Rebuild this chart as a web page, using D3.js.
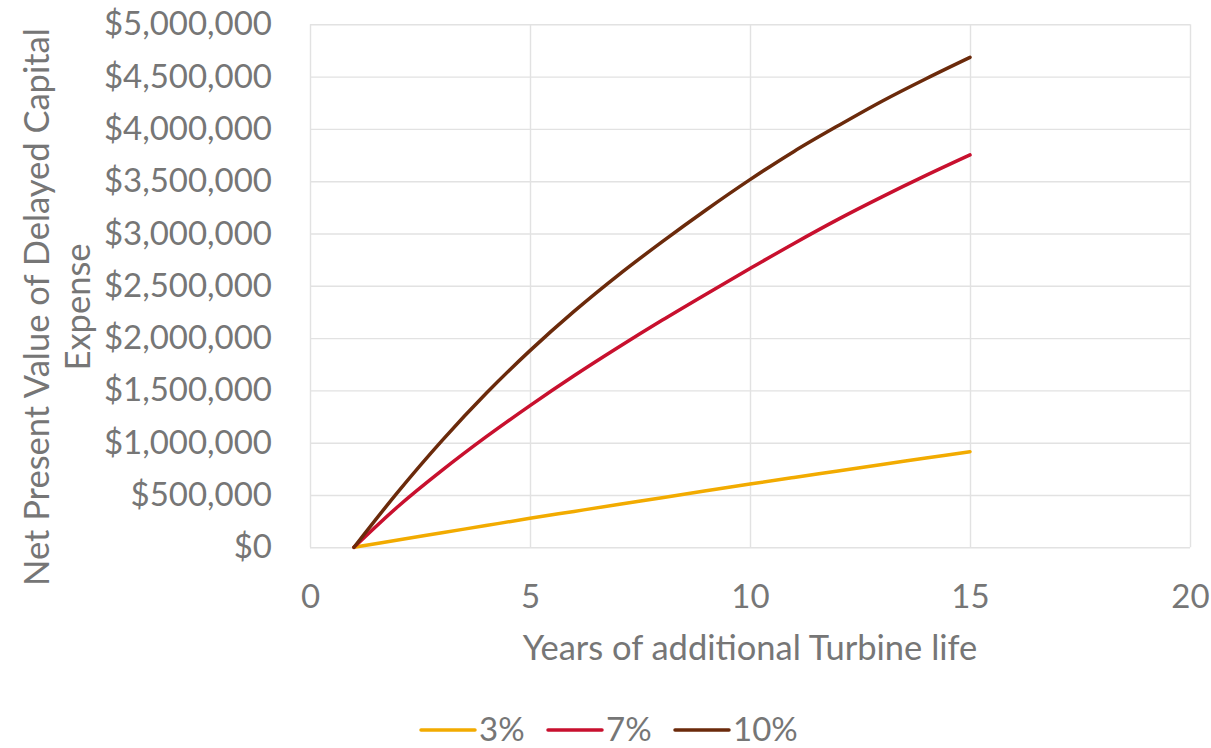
<!DOCTYPE html>
<html>
<head>
<meta charset="utf-8">
<script src="https://cdn.jsdelivr.net/npm/d3@7"></script>
<style>
  html, body { margin: 0; padding: 0; background: #ffffff; }
  svg { display: block; font-family: Lato, "Open Sans", sans-serif; }
</style>
</head>
<body>
<svg id="chart" width="1211" height="748"></svg>
<script>
// Years of additional turbine life
const years = [1, 2, 3, 4, 5, 6, 7, 8, 9, 10, 11, 12, 13, 14, 15];

// Net present value of the delayed capital expense at each discount rate ($)
const npv3  = [0, 70000, 139000, 208000, 277000, 343000, 409000, 474000, 540000, 605000, 668000, 730000, 792000, 853000, 914000];
const npv7  = [0, 390000, 735000, 1055000, 1355000, 1640000, 1910000, 2170000, 2420000, 2665000, 2905000, 3135000, 3350000, 3555000, 3751000];
const npv10 = [0, 530000, 1020000, 1470000, 1880000, 2255000, 2600000, 2920000, 3225000, 3515000, 3785000, 4030000, 4265000, 4480000, 4684000];

const seriesNames = ["3%", "7%", "10%"];
const seriesColors = ["#F2AB00", "#C8102E", "#6B2A0B"];
const seriesValues = [npv3, npv7, npv10];

const xTicks = [0, 5, 10, 15, 20];
const yTicks = [0, 500000, 1000000, 1500000, 2000000, 2500000, 3000000, 3500000, 4000000, 4500000, 5000000];

const xTitle = "Years of additional Turbine life";
const yTitleLines = ["Net Present Value of Delayed Capital", "Expense"];

const textColor = "#767676";
const gridColor = "#e2e2e2";
const fontSize = 33;
const titleSize = 34.5;

const svg = d3.select("#chart");
const plot = { left: 310, right: 1190, top: 24.3, bottom: 547.3 };

const x = d3.scaleLinear().domain([0, 20]).range([plot.left, plot.right]);
const y = d3.scaleLinear().domain([0, 5000000]).range([plot.bottom, plot.top]);

svg.append("rect").attr("width", 1211).attr("height", 748).attr("fill", "#ffffff");

// Gridlines
const gx = svg.append("g")
  .attr("transform", `translate(0,${plot.bottom})`)
  .call(d3.axisBottom(x).tickValues(xTicks).tickSize(-(plot.bottom - plot.top)).tickFormat(""));
const gy = svg.append("g")
  .attr("transform", `translate(${plot.left},0)`)
  .call(d3.axisLeft(y).tickValues(yTicks).tickSize(-(plot.right - plot.left)).tickFormat(""));
[gx, gy].forEach(g => {
  g.select(".domain").remove();
  g.selectAll(".tick line").attr("stroke", gridColor).attr("stroke-width", 1.4);
});

// Axis labels
const money = d3.format(",");
const ay = svg.append("g")
  .attr("transform", `translate(${plot.left},0)`)
  .call(d3.axisLeft(y).tickValues(yTicks).tickSize(0).tickPadding(38)
    .tickFormat(v => "$" + money(v)));
const ax = svg.append("g")
  .attr("transform", `translate(0,${plot.bottom})`)
  .call(d3.axisBottom(x).tickValues(xTicks).tickSize(0).tickPadding(37));
[ax, ay].forEach(g => {
  g.select(".domain").remove();
  g.selectAll("text")
    .attr("fill", textColor)
    .style("font-family", "Lato, 'Open Sans', sans-serif")
    .style("font-size", fontSize + "px");
});

// Axis titles
svg.append("text")
  .attr("x", (plot.left + plot.right) / 2)
  .attr("y", 660)
  .attr("text-anchor", "middle")
  .attr("fill", textColor)
  .style("font-size", titleSize + "px")
  .text(xTitle);

const yTitle = svg.append("text")
  .attr("transform", "translate(49,307) rotate(-90)")
  .attr("text-anchor", "middle")
  .attr("fill", textColor)
  .style("font-size", titleSize + "px");
yTitleLines.forEach((line, i) => {
  yTitle.append("tspan")
    .attr("x", 0)
    .attr("dy", i === 0 ? 0 : 41)
    .text(line);
});

// Series lines
const line = d3.line()
  .x((d, i) => x(years[i]))
  .y(d => y(d))
  .curve(d3.curveCatmullRom.alpha(0.5));

seriesValues.forEach((vals, i) => {
  svg.append("path")
    .datum(vals)
    .attr("fill", "none")
    .attr("stroke", seriesColors[i])
    .attr("stroke-width", 3.5)
    .attr("stroke-linecap", "round")
    .attr("stroke-linejoin", "round")
    .attr("d", line);
});

// Legend
const legendX = [421, 548, 675];
const legend = svg.append("g");
seriesNames.forEach((name, i) => {
  const g = legend.append("g").attr("transform", `translate(${legendX[i]},730)`);
  g.append("line")
    .attr("x1", 0).attr("x2", 54)
    .attr("y1", 0).attr("y2", 0)
    .attr("stroke", seriesColors[i])
    .attr("stroke-width", 3.5)
    .attr("stroke-linecap", "round");
  g.append("text")
    .attr("x", 58)
    .attr("y", 11)
    .attr("fill", textColor)
    .style("font-size", fontSize + "px")
    .text(name);
});
</script>
</body>
</html>
